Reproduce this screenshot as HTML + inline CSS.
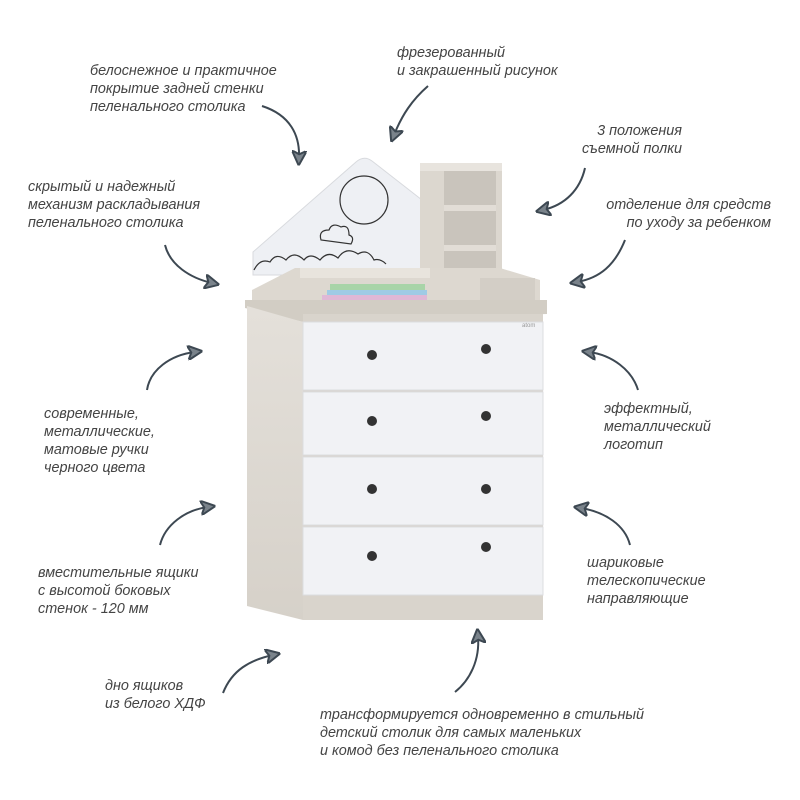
<!DOCTYPE html>
<html><head><meta charset="utf-8"><style>
html,body{margin:0;padding:0;background:#fff}
svg{display:block}
text{font-family:"Liberation Sans",sans-serif;font-style:italic;font-size:14.4px;fill:#444}
</style></head><body>
<svg width="800" height="800" viewBox="0 0 800 800" xmlns="http://www.w3.org/2000/svg">
<defs>
<marker id="ah" viewBox="0 0 12 12" refX="6" refY="6" markerWidth="15" markerHeight="15" markerUnits="userSpaceOnUse" orient="auto">
<path d="M0,0 L12,6 L0,12 L3,6 Z" fill="#7a838b" stroke="#3d4852" stroke-width="1.6"/>
</marker>
<linearGradient id="w" x1="0" x2="0" y1="0" y2="1"><stop offset="0" stop-color="#e4e0da"/><stop offset="1" stop-color="#d6d1c9"/></linearGradient>
</defs>

<path d="M253,275 L253,252 L356,162 Q364,155 372,161 L422,200 L422,275 Z" fill="#eef0f4" stroke="#d8dade"/>
<g fill="none" stroke="#333" stroke-width="1.2">
<circle cx="364" cy="200" r="24"/>
<path d="M321,240 q-3,-10 8,-10 q3,-8 12,-3 q8,-3 8,8 q6,2 2,9 z"/>
<path d="M254,270 q6,-12 16,-8 q6,-10 16,-2 q8,-10 18,0 q6,-8 16,0 q8,-10 18,-2 q8,-12 20,-4 q10,-6 16,6 q6,-2 12,4"/>
</g>
<rect x="420" y="163" width="82" height="122" fill="#dcd7cf"/>
<rect x="420" y="163" width="82" height="8" fill="#e8e4de"/>
<rect x="444" y="171" width="52" height="110" fill="#c9c4bc"/>
<rect x="444" y="205" width="52" height="6" fill="#e2ddd6"/>
<rect x="444" y="245" width="52" height="6" fill="#e2ddd6"/>
<path d="M252,290 L295,268 L500,268 L540,280 L540,300 L252,300 Z" fill="#ddd8d0"/>
<rect x="300" y="268" width="130" height="10" fill="#e8e4dd"/>
<rect x="480" y="278" width="55" height="22" fill="#d3cec6"/>
<rect x="330" y="284" width="95" height="6" fill="#a8d4a8"/>
<rect x="327" y="290" width="100" height="5" fill="#9fcbe5"/>
<rect x="322" y="295" width="105" height="7" fill="#dfb8d6"/>
<path d="M245,300 L547,300 L547,314 L303,322 L245,308 Z" fill="#d2cdc4"/>
<path d="M247,306 L303,322 L303,620 L247,606 Z" fill="url(#w)"/>
<rect x="303" y="314" width="240" height="306" fill="#d9d4cc"/>
<rect x="303" y="322" width="240" height="68" fill="#f1f2f5" stroke="#dcdde0"/>
<rect x="303" y="392" width="240" height="63" fill="#f1f2f5" stroke="#dcdde0"/>
<rect x="303" y="457" width="240" height="68" fill="#f1f2f5" stroke="#dcdde0"/>
<rect x="303" y="527" width="240" height="68" fill="#f1f2f5" stroke="#dcdde0"/>
<g fill="#333">
<circle cx="372" cy="355" r="5"/><circle cx="486" cy="349" r="5"/>
<circle cx="372" cy="421" r="5"/><circle cx="486" cy="416" r="5"/>
<circle cx="372" cy="489" r="5"/><circle cx="486" cy="489" r="5"/>
<circle cx="372" cy="556" r="5"/><circle cx="486" cy="547" r="5"/>
</g>
<text x="522" y="327" style="font-size:6px;fill:#999;font-style:normal">atom</text>

<g fill="none" stroke="#3d4852" stroke-width="2" marker-end="url(#ah)">
<path d="M262,106 C290,115 300,135 299,158"/>
<path d="M428,86 C412,100 402,115 394,135"/>
<path d="M585,168 C580,190 565,205 543,210"/>
<path d="M165,245 C170,265 190,278 212,283"/>
<path d="M625,240 C615,265 600,278 577,282"/>
<path d="M147,390 C150,370 170,355 195,352"/>
<path d="M638,390 C632,370 612,355 589,352"/>
<path d="M160,545 C165,525 185,510 208,507"/>
<path d="M630,545 C625,525 605,512 581,508"/>
<path d="M223,693 C232,670 250,660 273,655"/>
<path d="M455,692 C470,680 480,660 478,636"/>
</g>

<text x="90" y="75">белоснежное и практичное</text>
<text x="90" y="93">покрытие задней стенки</text>
<text x="90" y="111">пеленального столика</text>
<text x="397" y="57">фрезерованный</text>
<text x="397" y="75">и закрашенный рисунок</text>
<text x="682" y="135" text-anchor="end">3 положения</text>
<text x="682" y="153" text-anchor="end">съемной полки</text>
<text x="28" y="191">скрытый и надежный</text>
<text x="28" y="209">механизм раскладывания</text>
<text x="28" y="227">пеленального столика</text>
<text x="771" y="209" text-anchor="end">отделение для средств</text>
<text x="771" y="227" text-anchor="end">по уходу за ребенком</text>
<text x="44" y="418">современные,</text>
<text x="44" y="436">металлические,</text>
<text x="44" y="454">матовые ручки</text>
<text x="44" y="472">черного цвета</text>
<text x="604" y="413">эффектный,</text>
<text x="604" y="431">металлический</text>
<text x="604" y="449">логотип</text>
<text x="38" y="577">вместительные ящики</text>
<text x="38" y="595">с высотой боковых</text>
<text x="38" y="613">стенок - 120 мм</text>
<text x="587" y="567">шариковые</text>
<text x="587" y="585">телескопические</text>
<text x="587" y="603">направляющие</text>
<text x="105" y="690">дно ящиков</text>
<text x="105" y="708">из белого ХДФ</text>
<text x="320" y="719">трансформируется одновременно в стильный</text>
<text x="320" y="737">детский столик для самых маленьких</text>
<text x="320" y="755">и комод без пеленального столика</text>
</svg>
</body></html>
